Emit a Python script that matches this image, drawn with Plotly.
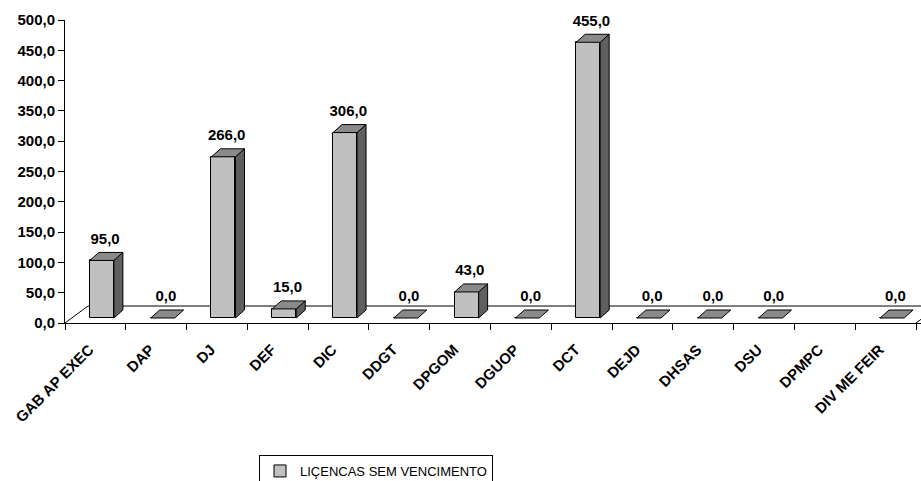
import plotly.graph_objects as go

# Data
categories = ["GAB AP EXEC", "DAP", "DJ", "DEF", "DIC", "DDGT", "DPGOM",
              "DGUOP", "DCT", "DEJD", "DHSAS", "DSU", "DPMPC", "DIV ME FEIR"]
licencas = [95, 0, 266, 15, 306, 0, 43, 0, 455, 0, 0, 0, None, 0]
y_ticks = [0, 50, 100, 150, 200, 250, 300, 350, 400, 450, 500]
series_name = "LIÇENCAS SEM VENCIMENTO"

# 3D look (category units on x, value units on y)
BAR_W = 0.395      # width of the front face
FRONT_DX = 0.107   # front face shift into the floor
FRONT_DY = 8.25
DEPTH_DX = 0.148   # bar depth projection
DEPTH_DY = 13.2
FLOOR_DX = 0.378   # floor depth projection
FLOOR_DY = 28.0
LABEL_DX = 0.16
LABEL_DY = 42.0
CAT_LABEL_DX = -0.1

FRONT_COL = "#C0C0C0"
TOP_COL = "#8A8A8A"
SIDE_COL = "#5F5F5F"
FONT = "Liberation Sans, Arial, sans-serif"

n = len(categories)
x_right = -0.5 + 856 / ((916 - 65) / n)

fig = go.Figure()

# Front faces of the columns
fig.add_trace(go.Bar(
    x=[i + FRONT_DX for i in range(n)],
    y=licencas,
    base=FRONT_DY,
    width=BAR_W,
    marker=dict(color=FRONT_COL, line=dict(color="black", width=1)),
    name=series_name,
    showlegend=True,
    hoverinfo="skip",
))

# Side and top faces
side_x, side_y, top_x, top_y = [], [], [], []
for i, v in enumerate(licencas):
    if v is None:
        continue
    xl = i + FRONT_DX - BAR_W / 2
    xr = xl + BAR_W
    yb = FRONT_DY
    yt = FRONT_DY + v
    top_x += [xl, xr, xr + DEPTH_DX, xl + DEPTH_DX, xl, None]
    top_y += [yt, yt, yt + DEPTH_DY, yt + DEPTH_DY, yt, None]
    if v > 0:
        side_x += [xr, xr + DEPTH_DX, xr + DEPTH_DX, xr, xr, None]
        side_y += [yb, yb + DEPTH_DY, yt + DEPTH_DY, yt, yb, None]

fig.add_trace(go.Scatter(
    x=side_x, y=side_y, mode="lines", fill="toself", fillcolor=SIDE_COL,
    line=dict(color="black", width=1), showlegend=False, hoverinfo="skip"))
fig.add_trace(go.Scatter(
    x=top_x, y=top_y, mode="lines", fill="toself", fillcolor=TOP_COL,
    line=dict(color="black", width=1), showlegend=False, hoverinfo="skip"))

# Value labels
lab_x = [i + LABEL_DX for i, v in enumerate(licencas) if v is not None]
lab_y = [v + LABEL_DY for v in licencas if v is not None]
lab_t = [f"{v:.1f}".replace(".", ",") for v in licencas if v is not None]
fig.add_trace(go.Scatter(
    x=lab_x, y=lab_y, mode="text", text=lab_t, textposition="middle center",
    textfont=dict(family=FONT, size=15, color="black", weight="bold"),
    showlegend=False, hoverinfo="skip", xaxis="x2", cliponaxis=False))

# Floor outline (behind the columns)
floor_line = dict(color="black", width=1)
fig.add_shape(type="line", xref="x", yref="y", layer="below",
              x0=-0.5, y0=0, x1=-0.5 + FLOOR_DX, y1=FLOOR_DY, line=floor_line)
fig.add_shape(type="line", xref="x", yref="y", layer="below",
              x0=-0.5 + FLOOR_DX, y0=FLOOR_DY, x1=n - 0.5 + FLOOR_DX, y1=FLOOR_DY,
              line=floor_line)
fig.add_shape(type="line", xref="x", yref="y", layer="below",
              x0=n - 0.5, y0=0, x1=n - 0.5 + FLOOR_DX, y1=FLOOR_DY, line=floor_line)

fig.update_layout(
    width=921, height=481,
    margin=dict(l=65, r=0, t=20, b=158, autoexpand=False),
    paper_bgcolor="white", plot_bgcolor="white",
    separators=", ",
    bargap=0,
    font=dict(family=FONT, color="black"),
    xaxis=dict(
        range=[-0.5, x_right],
        tickvals=[k - 0.5 for k in range(n + 1)],
        showticklabels=False,
        ticks="outside", ticklen=6, tickcolor="black", tickwidth=1,
        showline=True, linecolor="black", linewidth=1,
        showgrid=False, zeroline=False, automargin=False,
    ),
    xaxis2=dict(
        overlaying="x", anchor="y", side="bottom",
        range=[-0.5, x_right],
        tickvals=[i + CAT_LABEL_DX for i in range(n)], ticktext=categories,
        tickangle=-45, ticks="",
        ticklabelstandoff=14,
        tickfont=dict(family=FONT, size=15, color="black", weight="bold"),
        showline=False, showgrid=False, zeroline=False, automargin=False,
    ),
    yaxis=dict(
        range=[0, 500],
        tickvals=y_ticks, tickformat=".1f",
        ticks="outside", ticklen=6, tickcolor="black", tickwidth=1,
        tickfont=dict(family=FONT, size=15, color="black", weight="bold"),
        showline=True, linecolor="black", linewidth=1,
        showgrid=False, zeroline=False, automargin=False,
    ),
    legend=dict(
        x=(259 - 65) / 856, y=(323 - 455) / 303,
        xanchor="left", yanchor="top",
        bordercolor="black", borderwidth=1, bgcolor="white",
        font=dict(family=FONT, size=13, color="black"),
        itemwidth=30,
    ),
)

fig.write_html("out.html")
